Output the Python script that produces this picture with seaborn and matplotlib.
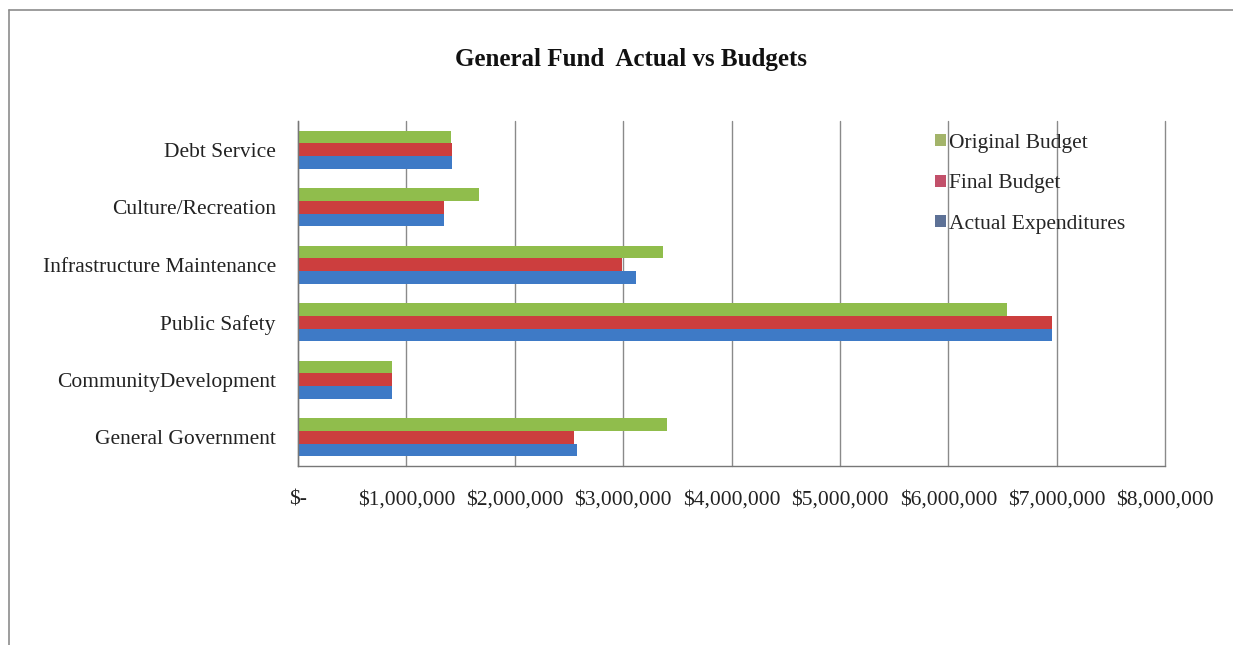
import matplotlib
matplotlib.use("Agg")
import matplotlib.pyplot as plt
from matplotlib.lines import Line2D
from matplotlib.patches import Patch
from matplotlib.ticker import FixedLocator
import seaborn as sns
import pandas as pd

categories = [
    "Debt Service",
    "Culture/Recreation",
    "Infrastructure Maintenance",
    "Public Safety",
    "CommunityDevelopment",
    "General Government",
]
series = ["Original Budget", "Final Budget", "Actual Expenditures"]
original_budget = [1410000, 1670000, 3370000, 6540000, 865000, 3400000]
final_budget = [1420000, 1350000, 2990000, 6960000, 865000, 2550000]
actual_expenditures = [1420000, 1350000, 3120000, 6960000, 865000, 2570000]
x_ticks = [0, 1000000, 2000000, 3000000, 4000000, 5000000, 6000000, 7000000, 8000000]
x_tick_labels = ["$-", "$1,000,000", "$2,000,000", "$3,000,000", "$4,000,000",
                 "$5,000,000", "$6,000,000", "$7,000,000", "$8,000,000"]
title = "General Fund  Actual vs Budgets"

colors = ["#90BD4C", "#CC3E3E", "#3E7AC6"]
legend_colors = ["#A3B46A", "#C2506A", "#5D7196"]

df = pd.DataFrame({
    "category": categories * 3,
    "series": [series[0]] * 6 + [series[1]] * 6 + [series[2]] * 6,
    "value": original_budget + final_budget + actual_expenditures,
})

sns.set_style("white")
plt.rcParams["font.family"] = ["Liberation Serif", "DejaVu Serif"]

fig = plt.figure(figsize=(12.33, 6.45), dpi=100)
ax = fig.add_axes([0.2417, 0.2775, 0.7032, 0.5349])

sns.barplot(data=df, y="category", x="value", hue="series", order=categories,
            hue_order=series, palette=colors, orient="h", width=0.66,
            saturation=1, ax=ax, legend=False, edgecolor="none")

ax.set_xlim(0, 8000000)
ax.set_ylim(len(categories) - 0.5, -0.5)
ax.set_xticks(x_ticks)
ax.set_xticklabels(x_tick_labels, fontsize=15.5, color="#222222")
ax.tick_params(axis="x", direction="out", length=6, width=1, color="#777777", pad=11.5)
ax.tick_params(axis="y", which="major", length=0, pad=16, labelsize=15.5, labelcolor="#222222")
ax.yaxis.set_minor_locator(FixedLocator([i - 0.5 for i in range(len(categories) + 1)]))
ax.tick_params(axis="y", which="minor", direction="out", length=5, width=1, color="#777777")
ax.set_xlabel("")
ax.set_ylabel("")

ax.grid(axis="x", color="#8a8a8a", linewidth=1)
ax.set_axisbelow(True)
for gl in ax.get_xgridlines():
    gl.set_clip_on(False)
for side in ["top", "right"]:
    ax.spines[side].set_visible(False)
for side in ["left", "bottom"]:
    ax.spines[side].set_color("#777777")
    ax.spines[side].set_linewidth(1)

handles = [Patch(facecolor=c, edgecolor="none") for c in legend_colors]
ax.legend(handles, series, loc="upper left", bbox_to_anchor=(0.735, 0.963),
          frameon=False, fontsize=15.5, handlelength=0.5, handleheight=0.5,
          handletextpad=0.15, labelspacing=1.0, borderaxespad=0, borderpad=0)

fig.text(0.512, 0.908, title, ha="center", va="center", fontsize=18,
         fontweight="bold", color="#111111")

# outer frame on the top and left edges
fig.add_artist(Line2D([0.0073, 0.0073], [0.0, 0.9845], transform=fig.transFigure,
                      color="#8c8c8c", linewidth=1.2))
fig.add_artist(Line2D([0.0073, 1.0], [0.9845, 0.9845], transform=fig.transFigure,
                      color="#8c8c8c", linewidth=1.2))

fig.savefig("out.png", dpi=100)
